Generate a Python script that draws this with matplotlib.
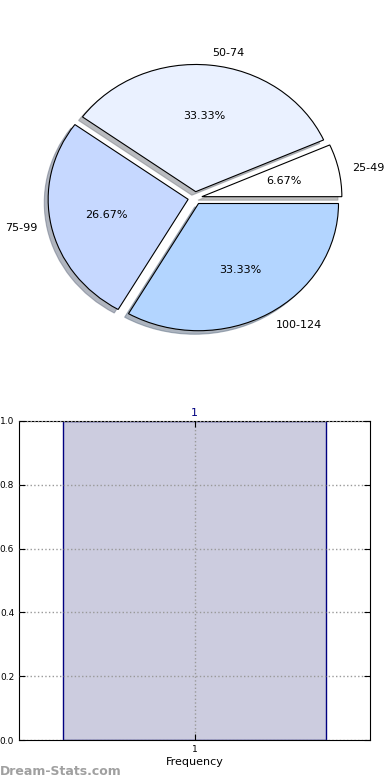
import matplotlib
matplotlib.use("Agg")
import matplotlib.pyplot as plt

# pie data
labels = ["25-49", "50-74", "75-99", "100-124"]
counts = [1, 5, 4, 5]
colors = ["#ffffff", "#eaf1ff", "#c6d8ff", "#b3d5ff"]

# bar data
bar_cats = [1]
bar_vals = [1.0]
bar_ticks = [0.0, 0.2, 0.4, 0.6, 0.8, 1.0]

fig = plt.figure(figsize=(3.9, 7.8), dpi=100)

# ---- pie ----
ax1 = fig.add_axes([20 / 390, 1 - 357 / 780, 350 / 390, 318 / 780])
wedges, texts, autotexts = ax1.pie(
    counts, labels=labels, colors=colors, explode=[0.05] * len(counts),
    autopct="%.2f%%", shadow={"ox": -0.02, "oy": -0.02, "shade": 0.5},
    startangle=0, counterclock=True,
    wedgeprops=dict(edgecolor="black", linewidth=0.8),
    textprops=dict(fontsize=8))
ax1.set_aspect("auto")
ax1.set_xlim(-1.25, 1.25)
ax1.set_ylim(-1.25, 1.25)

# ---- bar ----
ax2 = fig.add_axes([19 / 390, 40 / 780, 351 / 390, 319 / 780])
bars = ax2.bar(bar_cats, bar_vals, width=0.75, color="#ccccdf",
               edgecolor="#000080", linewidth=1.0, zorder=2)
for b, v in zip(bars, bar_vals):
    ax2.text(b.get_x() + b.get_width() / 2, v + 0.01, "%d" % v,
             ha="center", va="bottom", color="#000080", fontsize=8)
ax2.set_xlim(0.5, 1.5)
ax2.set_ylim(0, 1.0)
ax2.set_xticks(bar_cats)
ax2.set_yticks(bar_ticks)
ax2.set_yticklabels(["%.1f" % t for t in bar_ticks])
ax2.tick_params(direction="in", labelsize=6.5, length=4, top=True, right=True)
ax2.grid(True, linestyle=":", color="#999999", linewidth=1, zorder=3)
ax2.set_axisbelow(False)
ax2.set_xlabel("Frequency", fontsize=8, labelpad=2)

fig.text(0.0, 0.003, "Dream-Stats.com", color="#a0a0a0", fontsize=9,
         fontweight="bold", ha="left", va="bottom")

fig.savefig("out.png", dpi=100)
